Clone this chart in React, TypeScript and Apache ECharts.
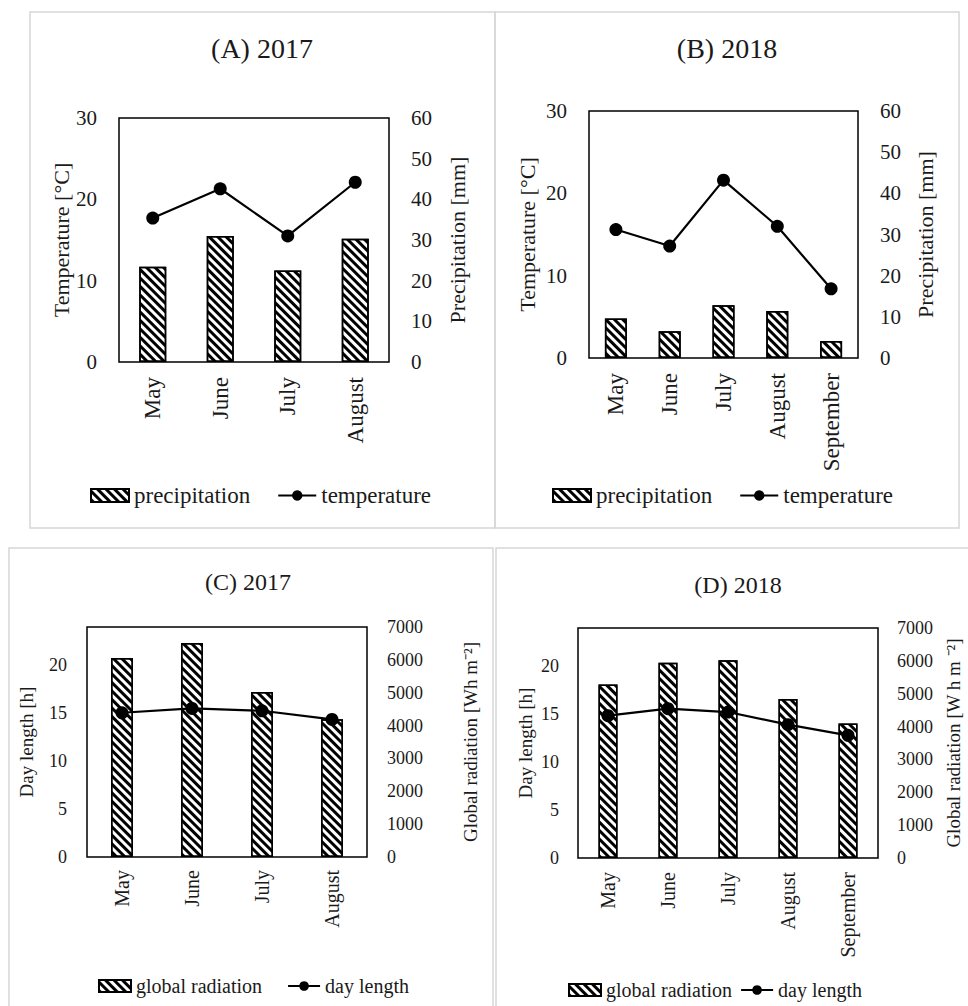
import React, { useEffect, useRef } from "react";
import * as echarts from "echarts";

// Months shown on the category axes
const months2017 = ["May", "June", "July", "August"];
const months2018 = ["May", "June", "July", "August", "September"];

// Weather during the 2017 and 2018 seasons
const precipitation2017 = [23.4, 31.0, 22.5, 30.3]; // mm
const temperature2017 = [17.7, 21.3, 15.5, 22.1]; // °C
const precipitation2018 = [9.6, 6.5, 12.8, 11.4, 4.1]; // mm
const temperature2018 = [15.6, 13.6, 21.6, 16.0, 8.4]; // °C

// Radiation and photoperiod
const radiation2017 = [6060, 6510, 5020, 4190]; // Wh m-2
const dayLength2017 = [15.05, 15.5, 15.26, 14.36]; // h
const radiation2018 = [5280, 5940, 6020, 4840, 4090]; // Wh m-2
const dayLength2018 = [14.85, 15.58, 15.23, 13.91, 12.8]; // h

// Axis ranges [min, max, step]
const temperatureRange = [0, 30, 10];
const precipitationRange = [0, 60, 10];
const dayLengthRange = [0, 24, 5];
const radiationRange = [0, 7000, 1000];

const SERIF = "Liberation Serif";
const INK = "#1a1a1a";

// Back-slash hatching for the bars
const hatch = {
  symbol: "rect",
  symbolSize: 1,
  dashArrayX: [1, 0],
  dashArrayY: [3, 3],
  rotation: Math.PI / 4,
  color: "#000",
};

type PanelSpec = {
  title: string;
  titleX: number;
  titleY: number;
  titleSize: number;
  grid: { left: number; top: number; width: number; height: number };
  months: string[];
  barName: string;
  barData: number[];
  barWidth: number;
  lineName: string;
  lineData: number[];
  leftRange: number[];
  rightRange: number[];
  leftName: string;
  rightName: string;
  leftGap: number;
  rightGap: number;
  nameSize: number;
  tickSize: number;
  tickMargin: number;
  catSize: number;
  catMargin: number;
  hideLeftMax: boolean;
  legendLeft: number;
  legendTop: number;
  legendGap: number;
  legendSize: number;
  legendIconW: number;
  legendIconH: number;
};

const panels: PanelSpec[] = [
  {
    title: "(A) 2017", titleX: 262, titleY: 34, titleSize: 28,
    grid: { left: 119, top: 118, width: 270, height: 244 },
    months: months2017,
    barName: "precipitation", barData: precipitation2017, barWidth: 27,
    lineName: "temperature", lineData: temperature2017,
    leftRange: temperatureRange, rightRange: precipitationRange,
    leftName: "Temperature [°C]", rightName: "Precipitation [mm]",
    leftGap: 47, rightGap: 57, nameSize: 22, tickSize: 21, tickMargin: 22,
    catSize: 23, catMargin: 15, hideLeftMax: false,
    legendLeft: 90, legendTop: 484, legendGap: 27, legendSize: 23,
    legendIconW: 38, legendIconH: 13,
  },
  {
    title: "(B) 2018", titleX: 727, titleY: 34, titleSize: 28,
    grid: { left: 589, top: 111, width: 269, height: 247 },
    months: months2018,
    barName: "precipitation", barData: precipitation2018, barWidth: 22,
    lineName: "temperature", lineData: temperature2018,
    leftRange: temperatureRange, rightRange: precipitationRange,
    leftName: "Temperature [°C]", rightName: "Precipitation [mm]",
    leftGap: 51, rightGap: 56, nameSize: 22, tickSize: 21, tickMargin: 22,
    catSize: 23, catMargin: 15, hideLeftMax: false,
    legendLeft: 552, legendTop: 484, legendGap: 27, legendSize: 23,
    legendIconW: 38, legendIconH: 13,
  },
  {
    title: "(C) 2017", titleX: 248, titleY: 570, titleSize: 24,
    grid: { left: 87, top: 627, width: 280, height: 230 },
    months: months2017,
    barName: "global radiation", barData: radiation2017, barWidth: 22,
    lineName: "day length", lineData: dayLength2017,
    leftRange: dayLengthRange, rightRange: radiationRange,
    leftName: "Day length [h]", rightName: "Global radiation [Wh m⁻²]",
    leftGap: 51, rightGap: 94, nameSize: 19, tickSize: 18, tickMargin: 20,
    catSize: 20, catMargin: 13, hideLeftMax: true,
    legendLeft: 98, legendTop: 976, legendGap: 25, legendSize: 20,
    legendIconW: 32, legendIconH: 12,
  },
  {
    title: "(D) 2018", titleX: 738, titleY: 573, titleSize: 24,
    grid: { left: 578, top: 628, width: 300, height: 230 },
    months: months2018,
    barName: "global radiation", barData: radiation2018, barWidth: 19,
    lineName: "day length", lineData: dayLength2018,
    leftRange: dayLengthRange, rightRange: radiationRange,
    leftName: "Day length [h]", rightName: "Global radiation [W h m ⁻²]",
    leftGap: 43, rightGap: 66, nameSize: 19, tickSize: 18, tickMargin: 19,
    catSize: 20, catMargin: 14, hideLeftMax: true,
    legendLeft: 568, legendTop: 980, legendGap: 8, legendSize: 20,
    legendIconW: 32, legendIconH: 12,
  },
];

// Light grey frames around each of the four panels
const frames = [
  { x: 30, y: 12, width: 465, height: 516 },
  { x: 495, y: 12, width: 464, height: 516 },
  { x: 9, y: 548, width: 484, height: 470 },
  { x: 496, y: 548, width: 480, height: 470 },
];

function valueAxis(
  i: number,
  position: "left" | "right",
  range: number[],
  name: string,
  gap: number,
  p: PanelSpec,
  hideMax: boolean
) {
  return {
    type: "value",
    gridIndex: i,
    position,
    min: range[0],
    max: range[1],
    interval: range[2],
    name,
    nameLocation: "middle",
    nameRotate: 90,
    nameGap: gap,
    nameTextStyle: { fontFamily: SERIF, fontSize: p.nameSize, color: INK },
    axisLine: { show: false },
    axisTick: { show: false },
    splitLine: { show: false },
    axisLabel: {
      fontFamily: SERIF,
      fontSize: p.tickSize,
      color: INK,
      margin: p.tickMargin,
      showMaxLabel: !hideMax,
      formatter: (v: number) => String(v),
    },
  };
}

function buildOption() {
  const grid: any[] = [];
  const xAxis: any[] = [];
  const yAxis: any[] = [];
  const series: any[] = [];
  const legend: any[] = [];
  const title: any[] = [];

  panels.forEach((p, i) => {
    title.push({
      text: p.title,
      left: p.titleX,
      top: p.titleY,
      textAlign: "center",
      padding: 0,
      textStyle: { fontFamily: SERIF, fontSize: p.titleSize, fontWeight: "normal", color: INK },
    });
    grid.push({
      ...p.grid,
      show: true,
      borderColor: "#000",
      borderWidth: 1.5,
      backgroundColor: "transparent",
    });
    xAxis.push({
      type: "category",
      gridIndex: i,
      data: p.months,
      axisLine: { show: false },
      axisTick: { show: false },
      axisLabel: {
        rotate: 90,
        interval: 0,
        margin: p.catMargin,
        fontFamily: SERIF,
        fontSize: p.catSize,
        color: INK,
      },
    });
    yAxis.push(valueAxis(i, "left", p.leftRange, p.leftName, p.leftGap, p, p.hideLeftMax));
    yAxis.push(valueAxis(i, "right", p.rightRange, p.rightName, p.rightGap, p, false));
    series.push({
      type: "bar",
      name: p.barName,
      xAxisIndex: i,
      yAxisIndex: 2 * i + 1,
      data: p.barData,
      barWidth: p.barWidth,
      silent: true,
      itemStyle: {
        color: "#fff",
        borderColor: "#000",
        borderWidth: 1.5,
        decal: hatch,
      },
    });
    series.push({
      type: "line",
      name: p.lineName,
      xAxisIndex: i,
      yAxisIndex: 2 * i,
      data: p.lineData,
      symbol: "circle",
      symbolSize: 13,
      silent: true,
      z: 3,
      lineStyle: { color: "#000", width: 2.2 },
      itemStyle: { color: "#000" },
    });
    legend.push({
      left: p.legendLeft,
      top: p.legendTop,
      itemGap: p.legendGap,
      itemWidth: p.legendIconW,
      itemHeight: p.legendIconH,
      selectedMode: false,
      padding: 0,
      data: [{ name: p.barName, icon: "rect" }, { name: p.lineName }],
      textStyle: { fontFamily: SERIF, fontSize: p.legendSize, color: INK },
    });
  });

  return {
    animation: false,
    backgroundColor: "#fff",
    title,
    grid,
    xAxis,
    yAxis,
    series,
    legend,
    graphic: frames.map((f) => ({
      type: "rect",
      shape: f,
      silent: true,
      z: -10,
      style: { fill: "none", stroke: "#d6d6d6", lineWidth: 1.5 },
    })),
  };
}

export default function App() {
  const ref = useRef<HTMLDivElement>(null);

  useEffect(() => {
    document.body.style.margin = "0";
    if (!ref.current) return;
    const chart = echarts.init(ref.current, undefined, { renderer: "svg" });
    chart.setOption(buildOption() as any);
    return () => chart.dispose();
  }, []);

  return <div ref={ref} style={{ width: 968, height: 1006 }} />;
}
